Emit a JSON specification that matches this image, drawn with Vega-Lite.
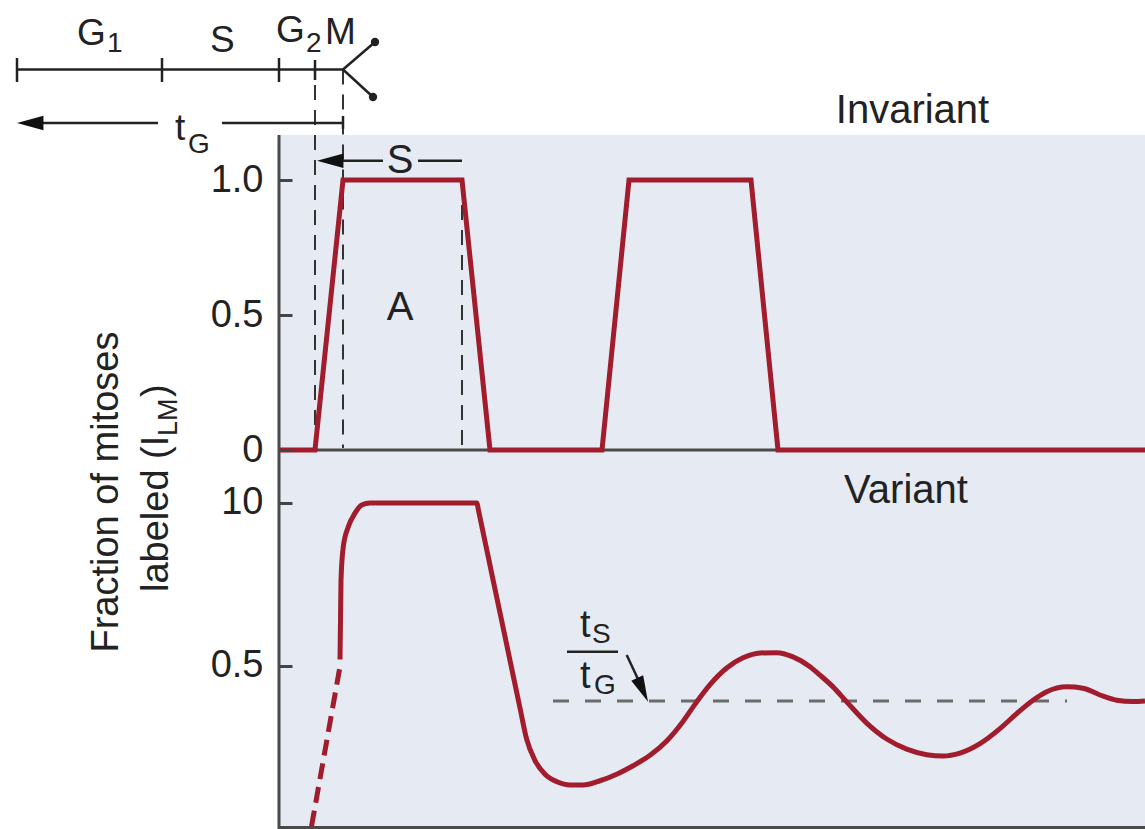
{
  "$schema": "https://vega.github.io/schema/vega-lite/v6.json",
  "width": 1145,
  "height": 829,
  "autosize": {"type": "none"},
  "padding": 0,
  "background": "white",
  "config": {"view": {"stroke": null}, "font": "Liberation Sans"},
  "datasets": {
    "shade": [{"t": -0.1, "t2": 86.5, "v": 1.1667, "v2": -1.4037}],
    "diagramLines": [
      {"t": -26.3, "v": 1.4093, "t2": 6.3, "v2": 1.4093},
      {"t": -26.3, "v": 1.4519, "t2": -26.3, "v2": 1.363},
      {"t": -11.8, "v": 1.4519, "t2": -11.8, "v2": 1.363},
      {"t": -0.1, "v": 1.4519, "t2": -0.1, "v2": 1.363},
      {"t": 3.5, "v": 1.4444, "t2": 3.5, "v2": 1.3704},
      {"t": 6.3, "v": 1.4093, "t2": 9.5, "v2": 1.5111},
      {"t": 6.3, "v": 1.4093, "t2": 9.3, "v2": 1.3074},
      {"t": -24.0, "v": 1.2111, "t2": -12.2, "v2": 1.2111},
      {"t": -5.8, "v": 1.2111, "t2": 6.3, "v2": 1.2111},
      {"t": 6.3, "v": 1.237, "t2": 6.3, "v2": 1.189},
      {"t": 5.0, "v": 1.0715, "t2": 10.3, "v2": 1.0715},
      {"t": 13.8, "v": 1.0715, "t2": 18.2, "v2": 1.0715}
    ],
    "dashV": [
      {"t": 3.5, "v": 1.4444, "t2": 3.5, "v2": 0.007},
      {"t": 6.3, "v": 1.4093, "t2": 6.3, "v2": 0.007},
      {"t": 18.2, "v": 1.0, "t2": 18.2, "v2": 0.007}
    ],
    "axisLines": [
      {"t": -0.1, "v": 1.1667, "t2": -0.1, "v2": -1.4037},
      {"t": -0.1, "v": 0, "t2": 86.5, "v2": 0},
      {"t": -0.1, "v": -1.398, "t2": 86.5, "v2": -1.398}
    ],
    "invariant": [
      {"t": -0.1, "v": 0}, {"t": 3.5, "v": 0}, {"t": 6.3, "v": 1}, {"t": 18.2, "v": 1},
      {"t": 21.0, "v": 0}, {"t": 32.2, "v": 0}, {"t": 34.9, "v": 1}, {"t": 47.1, "v": 1},
      {"t": 49.8, "v": 0}, {"t": 86.5, "v": 0}
    ],
    "dots": [{"t": 9.5, "v": 1.5111}, {"t": 9.3, "v": 1.3074}],
    "arrowsA": [{"t": -26.3, "v": 1.2111}, {"t": 3.7, "v": 1.0715}],
    "textBigA": [
      {"t": -20.3, "v": 1.5, "label": "G"},
      {"t": -7.0, "v": 1.474, "label": "S"},
      {"t": -0.4, "v": 1.5111, "label": "G"},
      {"t": 4.5, "v": 1.504, "label": "M"},
      {"t": -10.5, "v": 1.148, "label": "t"}
    ],
    "textSubA": [
      {"t": -17.3, "v": 1.474, "label": "1"},
      {"t": 2.6, "v": 1.474, "label": "2"},
      {"t": -9.2, "v": 1.1, "label": "G"}
    ],
    "textCenterA": [
      {"t": 12.0, "v": 1.026, "label": "S"},
      {"t": 12.0, "v": 0.4815, "label": "A"},
      {"t": 63.25, "v": 1.2111, "label": "Invariant"}
    ],
    "titleMain": [
      {"t": -16.2, "v": -0.1556, "label": "Fraction of mitoses"}
    ],
    "titleLeft": [
      {"t": -11.2, "v": -0.5259, "label": "labeled (I"},
      {"t": -11.2, "v": 0.1963, "label": ")"}
    ],
    "titleSub": [
      {"t": -10.3, "v": 0.0519, "label": "LM"}
    ],
    "variantDashed": [{"t": 3.15, "v": 0.008}, {"t": 5.95, "v": 0.49}],
    "variantSolid": [
      {"t": 6.0, "v": 0.52}, {"t": 6.1, "v": 0.764}, {"t": 6.33, "v": 0.866}, {"t": 6.83, "v": 0.927},
      {"t": 7.5, "v": 0.969}, {"t": 8.17, "v": 0.994}, {"t": 9.0, "v": 1.0}, {"t": 19.7, "v": 1.0},
      {"t": 19.8, "v": 0.985}, {"t": 22.2, "v": 0.634}, {"t": 24.0, "v": 0.371}, {"t": 24.67, "v": 0.275},
      {"t": 25.5, "v": 0.21}, {"t": 26.5, "v": 0.168}, {"t": 27.7, "v": 0.145}, {"t": 29.0, "v": 0.135},
      {"t": 30.3, "v": 0.135}, {"t": 32.0, "v": 0.148}, {"t": 33.67, "v": 0.168}, {"t": 35.3, "v": 0.194},
      {"t": 37.0, "v": 0.226}, {"t": 38.67, "v": 0.27}, {"t": 40.3, "v": 0.33}, {"t": 41.67, "v": 0.39},
      {"t": 43.0, "v": 0.443}, {"t": 44.67, "v": 0.494}, {"t": 46.3, "v": 0.525}, {"t": 48.0, "v": 0.54},
      {"t": 49.67, "v": 0.541}, {"t": 51.3, "v": 0.528}, {"t": 53.0, "v": 0.498}, {"t": 54.0, "v": 0.472},
      {"t": 55.3, "v": 0.436}, {"t": 56.67, "v": 0.39}, {"t": 58.67, "v": 0.325}, {"t": 60.67, "v": 0.276},
      {"t": 62.67, "v": 0.245}, {"t": 64.67, "v": 0.228}, {"t": 66.3, "v": 0.224}, {"t": 68.0, "v": 0.233},
      {"t": 70.0, "v": 0.262}, {"t": 72.0, "v": 0.308}, {"t": 73.67, "v": 0.354}, {"t": 75.3, "v": 0.395},
      {"t": 76.67, "v": 0.421}, {"t": 78.67, "v": 0.436}, {"t": 80.3, "v": 0.432}, {"t": 82.0, "v": 0.411},
      {"t": 83.67, "v": 0.395}, {"t": 85.3, "v": 0.391}, {"t": 86.5, "v": 0.393}
    ],
    "meanLine": [{"t": 27.3, "v": 0.3926, "t2": 78.7, "v2": 0.3926}],
    "fracLines": [
      {"t": 28.7, "v": 0.5439, "t2": 33.8, "v2": 0.5439},
      {"t": 34.67, "v": 0.5337, "t2": 36.4, "v2": 0.42}
    ],
    "arrowB": [{"t": 36.8, "v": 0.3905}],
    "textBigB": [
      {"t": 30.0, "v": 0.589, "label": "t"},
      {"t": 30.0, "v": 0.4325, "label": "t"}
    ],
    "textSubB": [
      {"t": 31.2, "v": 0.5706, "label": "S"},
      {"t": 31.4, "v": 0.4141, "label": "G"}
    ],
    "textCenterB": [
      {"t": 62.6, "v": 1.0, "label": "Variant"}
    ]
  },
  "layer": [
    {
      "encoding": {
        "x": {"field": "t", "type": "quantitative", "scale": {"domain": [-28, 86.5], "nice": false, "zero": false}, "axis": null},
        "y": {
          "field": "v", "type": "quantitative",
          "scale": {"domain": [-1.4037, 1.6667], "nice": false, "zero": false},
          "axis": {
            "orient": "left", "offset": -279, "values": [0, 0.5, 1], "domain": false, "grid": false, "title": null,
            "ticks": true, "tickSize": -13, "tickWidth": 3, "tickColor": "#444444",
            "labelPadding": 29, "labelFontSize": 38, "labelFont": "Liberation Sans", "labelColor": "#222222",
            "labelOverlap": false, "labelFlush": false, "zindex": 1,
            "labelExpr": "datum.value == 0 ? '0' : format(datum.value, '.1f')"
          }
        }
      },
      "layer": [
        {"data": {"name": "shade"}, "mark": {"type": "rect", "color": "#e6ebf3"},
         "encoding": {"x2": {"field": "t2"}, "y2": {"field": "v2"}}},
        {"data": {"name": "axisLines"}, "mark": {"type": "rule", "color": "#4a4a4a", "strokeWidth": 3},
         "encoding": {"x2": {"field": "t2"}, "y2": {"field": "v2"}}},
        {"data": {"name": "dashV"}, "mark": {"type": "rule", "color": "#333333", "strokeWidth": 2, "strokeDash": [15, 10]},
         "encoding": {"x2": {"field": "t2"}, "y2": {"field": "v2"}}},
        {"data": {"name": "diagramLines"}, "mark": {"type": "rule", "color": "#222222", "strokeWidth": 2.5},
         "encoding": {"x2": {"field": "t2"}, "y2": {"field": "v2"}}},
        {"data": {"name": "invariant"}, "mark": {"type": "line", "color": "#a11c2c", "strokeWidth": 5, "strokeJoin": "miter"}},
        {"data": {"name": "dots"}, "mark": {"type": "point", "shape": "circle", "filled": true, "size": 70, "color": "#222222", "opacity": 1}},
        {"data": {"name": "arrowsA"}, "mark": {"type": "point", "shape": "M0,0L2,-0.55L2,0.55Z", "filled": true, "size": 700, "color": "#111111", "opacity": 1}},
        {"data": {"name": "textBigA"}, "mark": {"type": "text", "fontSize": 37, "align": "left", "baseline": "alphabetic", "color": "#222222"},
         "encoding": {"text": {"field": "label"}}},
        {"data": {"name": "textSubA"}, "mark": {"type": "text", "fontSize": 28, "align": "left", "baseline": "alphabetic", "color": "#222222"},
         "encoding": {"text": {"field": "label"}}},
        {"data": {"name": "textCenterA"}, "mark": {"type": "text", "fontSize": 40, "align": "center", "baseline": "alphabetic", "color": "#222222"},
         "encoding": {"text": {"field": "label"}}},
        {"data": {"name": "titleMain"}, "mark": {"type": "text", "fontSize": 38, "align": "center", "baseline": "alphabetic", "angle": 270, "color": "#222222"},
         "encoding": {"text": {"field": "label"}}},
        {"data": {"name": "titleLeft"}, "mark": {"type": "text", "fontSize": 38, "align": "left", "baseline": "alphabetic", "angle": 270, "color": "#222222"},
         "encoding": {"text": {"field": "label"}}},
        {"data": {"name": "titleSub"}, "mark": {"type": "text", "fontSize": 27, "align": "left", "baseline": "alphabetic", "angle": 270, "color": "#222222"},
         "encoding": {"text": {"field": "label"}}}
      ]
    },
    {
      "encoding": {
        "x": {"field": "t", "type": "quantitative", "scale": {"domain": [-28, 86.5], "nice": false, "zero": false}, "axis": null},
        "y": {
          "field": "v", "type": "quantitative",
          "scale": {"domain": [0, 2.5429], "nice": false, "zero": false},
          "axis": {
            "orient": "left", "offset": -279, "values": [0.5, 1], "domain": false, "grid": false, "title": null,
            "ticks": true, "tickSize": -13, "tickWidth": 3, "tickColor": "#444444",
            "labelPadding": 29, "labelFontSize": 38, "labelFont": "Liberation Sans", "labelColor": "#222222",
            "labelOverlap": false, "labelFlush": false, "zindex": 1,
            "labelExpr": "datum.value == 1 ? '10' : '0.5'"
          }
        }
      },
      "layer": [
        {"data": {"name": "meanLine"}, "mark": {"type": "rule", "color": "#6b6b6b", "strokeWidth": 3, "strokeDash": [16, 16]},
         "encoding": {"x2": {"field": "t2"}, "y2": {"field": "v2"}}},
        {"data": {"name": "fracLines"}, "mark": {"type": "rule", "color": "#222222", "strokeWidth": 2.5},
         "encoding": {"x2": {"field": "t2"}, "y2": {"field": "v2"}}},
        {"data": {"name": "arrowB"}, "mark": {"type": "point", "shape": "M0,0L2,-0.5L2,0.5Z", "filled": true, "size": 676, "angle": 245.5, "color": "#111111", "opacity": 1}},
        {"data": {"name": "variantDashed"}, "mark": {"type": "line", "color": "#a11c2c", "strokeWidth": 5, "strokeDash": [16, 8]}},
        {"data": {"name": "variantSolid"}, "mark": {"type": "line", "color": "#a11c2c", "strokeWidth": 5, "interpolate": "monotone"}},
        {"data": {"name": "textBigB"}, "mark": {"type": "text", "fontSize": 38, "align": "left", "baseline": "alphabetic", "color": "#222222"},
         "encoding": {"text": {"field": "label"}}},
        {"data": {"name": "textSubB"}, "mark": {"type": "text", "fontSize": 28, "align": "left", "baseline": "alphabetic", "color": "#222222"},
         "encoding": {"text": {"field": "label"}}},
        {"data": {"name": "textCenterB"}, "mark": {"type": "text", "fontSize": 40, "align": "center", "baseline": "alphabetic", "color": "#222222"},
         "encoding": {"text": {"field": "label"}}}
      ]
    }
  ],
  "resolve": {"scale": {"y": "independent"}}
}
